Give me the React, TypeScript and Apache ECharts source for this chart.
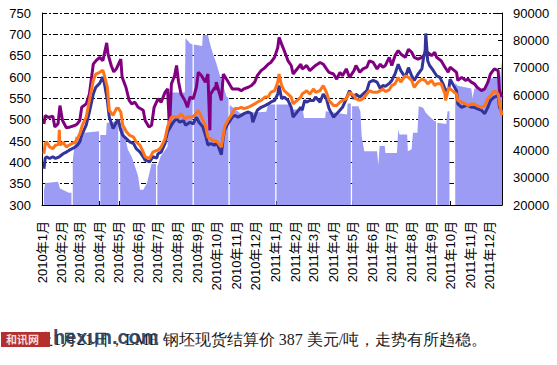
import React, { useEffect, useRef } from 'react';
import * as echarts from 'echarts';

const monthTicks = [
  '2010-01-01', '2010-02-01', '2010-03-01', '2010-04-01', '2010-05-01', '2010-06-01',
  '2010-07-01', '2010-08-01', '2010-09-01', '2010-10-01', '2010-11-01', '2010-12-01',
  '2011-01-01', '2011-02-01', '2011-03-01', '2011-04-01', '2011-05-01', '2011-06-01',
  '2011-07-01', '2011-08-01', '2011-09-01', '2011-10-01', '2011-11-01', '2011-12-01',
];

const leftTicks = { min: 300, max: 750, step: 50 };
const rightTicks = { min: 20000, max: 90000, step: 10000 };

const purpleLine: [string, number][] = [
  ['2010-01-04', 490], ['2010-01-06', 510], ['2010-01-11', 505], ['2010-01-18', 508], ['2010-01-21', 483],
  ['2010-01-26', 490], ['2010-01-29', 533], ['2010-02-02', 498], ['2010-02-08', 481], ['2010-02-12', 482],
  ['2010-02-22', 487], ['2010-02-25', 490], ['2010-03-01', 498], ['2010-03-04', 529], ['2010-03-11', 537],
  ['2010-03-16', 560], ['2010-03-22', 630], ['2010-03-26', 638], ['2010-04-01', 646], ['2010-04-06', 638],
  ['2010-04-12', 680], ['2010-04-14', 654], ['2010-04-19', 627], ['2010-04-23', 612], ['2010-04-27', 619],
  ['2010-05-04', 642], ['2010-05-06', 600], ['2010-05-12', 576], ['2010-05-17', 545], ['2010-05-21', 537],
  ['2010-05-26', 541], ['2010-05-31', 529], ['2010-06-08', 522], ['2010-06-11', 498], ['2010-06-17', 483],
  ['2010-06-21', 487], ['2010-06-25', 529], ['2010-07-01', 549], ['2010-07-06', 541], ['2010-07-12', 564],
  ['2010-07-16', 572], ['2010-07-19', 479], ['2010-07-22', 584], ['2010-07-27', 603], ['2010-07-30', 627],
  ['2010-08-02', 590], ['2010-08-06', 560], ['2010-08-12', 545], ['2010-08-16', 529], ['2010-08-20', 553],
  ['2010-08-25', 549], ['2010-08-30', 576], ['2010-09-02', 611], ['2010-09-07', 603], ['2010-09-13', 588],
  ['2010-09-17', 607], ['2010-09-20', 475], ['2010-09-21', 560], ['2010-09-28', 576], ['2010-09-29', 570],
  ['2010-09-30', 588], ['2010-10-08', 545], ['2010-10-11', 607], ['2010-10-18', 590], ['2010-10-25', 572],
  ['2010-10-29', 572], ['2010-11-03', 572], ['2010-11-08', 568], ['2010-11-12', 572], ['2010-11-19', 576],
  ['2010-11-24', 580], ['2010-11-29', 588], ['2010-12-03', 603], ['2010-12-09', 615], ['2010-12-15', 622],
  ['2010-12-20', 630], ['2010-12-24', 634], ['2010-12-30', 646],
  ['2011-01-04', 669], ['2011-01-06', 693], ['2011-01-10', 677], ['2011-01-14', 662], ['2011-01-20', 638],
  ['2011-01-25', 627], ['2011-01-28', 607], ['2011-02-09', 630], ['2011-02-11', 619], ['2011-02-15', 623],
  ['2011-02-18', 627], ['2011-02-23', 615], ['2011-03-01', 623], ['2011-03-04', 627], ['2011-03-11', 634],
  ['2011-03-16', 630], ['2011-03-21', 619], ['2011-03-25', 611], ['2011-04-01', 607], ['2011-04-06', 595],
  ['2011-04-11', 611], ['2011-04-15', 603], ['2011-04-21', 619], ['2011-04-26', 599], ['2011-05-03', 615],
  ['2011-05-06', 627], ['2011-05-12', 611], ['2011-05-17', 619], ['2011-05-23', 623], ['2011-05-27', 638],
  ['2011-06-02', 634], ['2011-06-08', 619], ['2011-06-13', 630], ['2011-06-17', 623], ['2011-06-21', 627],
  ['2011-06-27', 646], ['2011-07-01', 627], ['2011-07-06', 650], ['2011-07-11', 662], ['2011-07-15', 654],
  ['2011-07-22', 646], ['2011-07-27', 665], ['2011-08-01', 658], ['2011-08-05', 646], ['2011-08-11', 642],
  ['2011-08-17', 646], ['2011-08-22', 654], ['2011-08-26', 658], ['2011-09-01', 650], ['2011-09-06', 658],
  ['2011-09-09', 646], ['2011-09-16', 638], ['2011-09-22', 623], ['2011-09-27', 611], ['2011-09-30', 623],
  ['2011-10-10', 611], ['2011-10-12', 592], ['2011-10-18', 599], ['2011-10-24', 592], ['2011-10-28', 595],
  ['2011-11-02', 588], ['2011-11-07', 584], ['2011-11-11', 576], ['2011-11-18', 568], ['2011-11-23', 572],
  ['2011-11-28', 588], ['2011-12-02', 607], ['2011-12-08', 619], ['2011-12-14', 615], ['2011-12-16', 568],
  ['2011-12-20', 553],
];

const navyLine: [string, number][] = [
  ['2010-01-04', 385], ['2010-01-06', 409], ['2010-01-08', 413], ['2010-01-13', 409], ['2010-01-18', 413],
  ['2010-01-22', 409], ['2010-01-28', 413], ['2010-02-03', 420], ['2010-02-08', 424], ['2010-02-12', 428],
  ['2010-02-22', 436], ['2010-02-25', 440], ['2010-03-01', 448], ['2010-03-05', 467], ['2010-03-11', 487],
  ['2010-03-16', 518], ['2010-03-22', 560], ['2010-03-26', 576], ['2010-04-01', 585], ['2010-04-06', 600],
  ['2010-04-09', 580], ['2010-04-13', 545], ['2010-04-16', 506], ['2010-04-22', 479], ['2010-04-27', 494],
  ['2010-04-30', 500], ['2010-05-04', 475], ['2010-05-07', 463], ['2010-05-13', 455], ['2010-05-18', 448],
  ['2010-05-24', 444], ['2010-05-28', 432], ['2010-06-03', 424], ['2010-06-08', 413], ['2010-06-11', 405],
  ['2010-06-18', 401], ['2010-06-23', 413], ['2010-06-29', 410], ['2010-07-01', 420], ['2010-07-06', 424],
  ['2010-07-12', 444], ['2010-07-16', 471], ['2010-07-22', 487], ['2010-07-27', 498], ['2010-07-30', 502],
  ['2010-08-04', 494], ['2010-08-10', 498], ['2010-08-13', 487], ['2010-08-20', 494], ['2010-08-25', 490],
  ['2010-08-30', 506], ['2010-09-03', 494], ['2010-09-09', 483], ['2010-09-14', 459], ['2010-09-17', 440],
  ['2010-09-21', 444], ['2010-09-28', 440], ['2010-09-30', 450], ['2010-10-08', 418], ['2010-10-11', 459],
  ['2010-10-13', 475], ['2010-10-18', 490], ['2010-10-25', 506], ['2010-10-29', 510], ['2010-11-03', 506],
  ['2010-11-08', 510], ['2010-11-12', 514], ['2010-11-19', 518], ['2010-11-24', 514], ['2010-11-26', 494],
  ['2010-11-29', 506], ['2010-12-03', 522], ['2010-12-09', 529], ['2010-12-15', 533], ['2010-12-20', 537],
  ['2010-12-24', 541], ['2010-12-30', 545],
  ['2011-01-04', 560], ['2011-01-06', 580], ['2011-01-10', 549], ['2011-01-14', 553], ['2011-01-20', 545],
  ['2011-01-25', 529], ['2011-01-28', 506], ['2011-02-09', 529], ['2011-02-11', 522], ['2011-02-15', 545],
  ['2011-02-18', 541], ['2011-02-23', 545], ['2011-03-01', 545], ['2011-03-04', 553], ['2011-03-11', 541],
  ['2011-03-16', 560], ['2011-03-21', 549], ['2011-03-25', 526], ['2011-04-01', 506], ['2011-04-06', 514],
  ['2011-04-11', 522], ['2011-04-15', 529], ['2011-04-21', 549], ['2011-04-26', 568], ['2011-05-03', 549],
  ['2011-05-06', 560], ['2011-05-12', 553], ['2011-05-17', 560], ['2011-05-23', 568], ['2011-05-27', 588],
  ['2011-06-02', 592], ['2011-06-08', 588], ['2011-06-13', 573], ['2011-06-17', 580], ['2011-06-21', 578],
  ['2011-06-27', 585], ['2011-07-01', 592], ['2011-07-06', 607], ['2011-07-11', 630], ['2011-07-15', 615],
  ['2011-07-22', 599], ['2011-07-27', 622], ['2011-08-01', 603], ['2011-08-05', 592], ['2011-08-11', 607],
  ['2011-08-17', 619], ['2011-08-19', 640], ['2011-08-22', 662], ['2011-08-23', 702], ['2011-08-26', 638],
  ['2011-08-29', 627], ['2011-09-02', 619], ['2011-09-09', 603], ['2011-09-14', 599], ['2011-09-19', 584],
  ['2011-09-23', 568], ['2011-09-28', 572], ['2011-09-30', 595], ['2011-10-10', 568], ['2011-10-12', 537],
  ['2011-10-18', 529], ['2011-10-24', 533], ['2011-10-28', 533], ['2011-11-02', 529], ['2011-11-07', 529],
  ['2011-11-11', 526], ['2011-11-18', 522], ['2011-11-23', 514], ['2011-11-28', 529], ['2011-12-02', 545],
  ['2011-12-08', 553], ['2011-12-14', 556], ['2011-12-16', 529], ['2011-12-20', 518],
];

const orangeLine: [string, number][] = [
  ['2010-01-04', 420], ['2010-01-06', 444], ['2010-01-08', 448], ['2010-01-13', 436], ['2010-01-18', 432],
  ['2010-01-22', 440], ['2010-01-27', 442], ['2010-01-28', 476], ['2010-01-29', 440], ['2010-02-03', 447],
  ['2010-02-08', 436], ['2010-02-12', 440], ['2010-02-22', 448], ['2010-02-25', 455], ['2010-03-01', 467],
  ['2010-03-05', 487], ['2010-03-11', 506], ['2010-03-16', 545], ['2010-03-22', 592], ['2010-03-26', 607],
  ['2010-04-01', 611], ['2010-04-06', 616], ['2010-04-09', 600], ['2010-04-13', 576], ['2010-04-16', 522],
  ['2010-04-22', 510], ['2010-04-27', 526], ['2010-04-30', 527], ['2010-05-04', 518], ['2010-05-07', 487],
  ['2010-05-13', 471], ['2010-05-18', 463], ['2010-05-24', 459], ['2010-05-28', 448], ['2010-06-03', 440],
  ['2010-06-08', 424], ['2010-06-11', 413], ['2010-06-18', 409], ['2010-06-23', 424], ['2010-06-29', 428],
  ['2010-07-01', 428], ['2010-07-06', 436], ['2010-07-12', 455], ['2010-07-16', 483], ['2010-07-22', 506],
  ['2010-07-27', 506], ['2010-08-02', 506], ['2010-08-06', 514], ['2010-08-12', 502], ['2010-08-17', 506],
  ['2010-08-23', 506], ['2010-08-27', 510], ['2010-09-02', 522], ['2010-09-07', 506], ['2010-09-13', 487],
  ['2010-09-17', 459], ['2010-09-21', 455], ['2010-09-28', 448], ['2010-09-30', 451], ['2010-10-08', 436],
  ['2010-10-11', 463], ['2010-10-13', 483], ['2010-10-18', 498], ['2010-10-25', 514], ['2010-10-29', 526],
  ['2010-11-03', 526], ['2010-11-08', 529], ['2010-11-12', 526], ['2010-11-19', 529], ['2010-11-24', 533],
  ['2010-11-29', 537], ['2010-12-03', 541], ['2010-12-09', 545], ['2010-12-15', 553], ['2010-12-20', 553],
  ['2010-12-24', 564], ['2010-12-30', 568],
  ['2011-01-04', 588], ['2011-01-06', 607], ['2011-01-10', 580], ['2011-01-14', 568], ['2011-01-20', 560],
  ['2011-01-25', 553], ['2011-01-28', 537], ['2011-02-09', 553], ['2011-02-11', 560], ['2011-02-15', 564],
  ['2011-02-18', 568], ['2011-02-23', 560], ['2011-03-01', 572], ['2011-03-04', 564], ['2011-03-11', 568],
  ['2011-03-16', 580], ['2011-03-21', 564], ['2011-03-25', 545], ['2011-04-01', 533], ['2011-04-06', 533],
  ['2011-04-11', 541], ['2011-04-15', 545], ['2011-04-21', 549], ['2011-04-26', 564], ['2011-05-03', 556],
  ['2011-05-06', 549], ['2011-05-12', 545], ['2011-05-17', 549], ['2011-05-23', 560], ['2011-05-27', 568],
  ['2011-06-02', 564], ['2011-06-08', 564], ['2011-06-13', 568], ['2011-06-17', 572], ['2011-06-21', 566],
  ['2011-06-27', 570], ['2011-07-01', 580], ['2011-07-06', 584], ['2011-07-11', 599], ['2011-07-15', 588],
  ['2011-07-22', 603], ['2011-07-27', 599], ['2011-08-01', 592], ['2011-08-05', 576], ['2011-08-11', 588],
  ['2011-08-17', 595], ['2011-08-22', 592], ['2011-08-26', 584], ['2011-09-01', 592], ['2011-09-06', 580],
  ['2011-09-09', 584], ['2011-09-16', 584], ['2011-09-22', 560], ['2011-09-23', 545], ['2011-09-28', 576],
  ['2011-09-30', 572], ['2011-10-10', 560], ['2011-10-12', 545], ['2011-10-18', 541], ['2011-10-24', 537],
  ['2011-10-28', 533], ['2011-11-02', 537], ['2011-11-07', 537], ['2011-11-11', 533], ['2011-11-18', 529],
  ['2011-11-23', 533], ['2011-11-28', 549], ['2011-12-02', 556], ['2011-12-08', 568], ['2011-12-14', 560],
  ['2011-12-16', 537], ['2011-12-20', 510],
];

const areaValues: [string, number | null][] = [
  ['2010-01-04', 25000], ['2010-01-06', 28000], ['2010-01-26', 28500], ['2010-01-29', 26000], ['2010-02-12', 24500],
  ['2010-02-16', 24500], ['2010-02-17', null], ['2010-02-18', 36000], ['2010-02-22', 45000], ['2010-03-05', 44000],
  ['2010-03-08', 46300], ['2010-03-31', 46900], ['2010-04-01', null], ['2010-04-02', 45500], ['2010-04-11', 45500],
  ['2010-04-12', 49900], ['2010-04-30', 50500], ['2010-05-01', null], ['2010-05-03', 48100], ['2010-05-08', 48100],
  ['2010-05-10', 45500], ['2010-05-15', 40200], ['2010-05-21', 37600], ['2010-05-26', 34100], ['2010-05-31', 30600],
  ['2010-06-03', 25600], ['2010-06-08', 25600], ['2010-06-14', 28000], ['2010-06-17', 31000], ['2010-06-21', 35000],
  ['2010-06-28', 35000], ['2010-06-29', null], ['2010-06-30', 34000], ['2010-07-05', 37700], ['2010-07-16', 41300],
  ['2010-07-17', 61000], ['2010-08-12', 61000], ['2010-08-13', 80900], ['2010-08-20', 79000], ['2010-08-24', 78500],
  ['2010-08-25', null], ['2010-08-26', 78500], ['2010-09-08', 78000], ['2010-09-09', 82000], ['2010-09-17', 82000],
  ['2010-09-20', 79000], ['2010-09-25', 75000], ['2010-09-30', 71800], ['2010-10-06', 66900], ['2010-10-11', 63300],
  ['2010-10-16', 59600], ['2010-10-19', 59000], ['2010-10-20', null], ['2010-10-21', 56500], ['2010-11-06', 53500],
  ['2010-12-17', 54000], ['2010-12-20', 56600], ['2010-12-31', 56600], ['2011-01-01', null], ['2011-01-02', 56600],
  ['2011-01-24', 56600], ['2011-01-25', 54800], ['2011-02-12', 54800], ['2011-02-14', 51700], ['2011-03-19', 51700],
  ['2011-03-20', 54200], ['2011-04-22', 53000], ['2011-04-23', 57000], ['2011-04-28', 57000], ['2011-04-29', null],
  ['2011-04-30', 56000], ['2011-05-10', 56000], ['2011-05-13', 54000], ['2011-05-15', 45000], ['2011-05-19', 39600],
  ['2011-06-08', 39600], ['2011-06-10', 34600], ['2011-06-12', 41500], ['2011-06-20', 41500], ['2011-06-21', 39000],
  ['2011-07-09', 39000], ['2011-07-11', 47500], ['2011-07-13', 45700], ['2011-07-25', 45700], ['2011-07-26', 39600],
  ['2011-08-01', 40300], ['2011-08-03', 46300], ['2011-08-10', 46300], ['2011-08-12', 56000], ['2011-08-19', 55500],
  ['2011-08-23', 53600], ['2011-08-30', 52000], ['2011-09-06', 50500], ['2011-09-08', 50500], ['2011-09-09', null],
  ['2011-09-10', 50000], ['2011-09-24', 49500], ['2011-09-26', 54200], ['2011-09-29', 54200], ['2011-09-30', null],
  ['2011-10-08', 64500], ['2011-10-12', 63500], ['2011-11-02', 62500], ['2011-11-04', 59000], ['2011-11-07', 62500],
  ['2011-11-26', 62500], ['2011-11-27', 66000], ['2011-12-17', 66500], ['2011-12-20', 72500],
];

const caption = '截止1月21日，LME 钢坯现货结算价 387 美元/吨，走势有所趋稳。';
const watermark = 'hexun.com';
const logoText = '和讯网';

const ts = (s: string) => {
  const [y, m, d] = s.split('-').map(Number);
  return new Date(y, m - 1, d).getTime();
};
const toPoints = (arr: [string, number | null][]) => arr.map(([d, v]) => [ts(d), v]);

const FONT = '"Liberation Sans", Arial, "Noto Sans CJK SC", sans-serif';

export default function App() {
  const ref = useRef<HTMLDivElement>(null);
  useEffect(() => {
    document.body.style.margin = '0';
    const chart = echarts.init(ref.current!, null, { renderer: 'svg' });
    const tickValues = monthTicks.map(ts);
    const lineSeries = (name: string, data: [string, number][], color: string) => ({
      name,
      type: 'line',
      yAxisIndex: 0,
      data: toPoints(data),
      showSymbol: false,
      symbol: 'none',
      lineStyle: { color, width: 3 },
      itemStyle: { color },
      z: 3,
    });
    chart.setOption({
      animation: false,
      backgroundColor: '#ffffff',
      grid: { left: 42, right: 55, top: 13, bottom: 160 },
      xAxis: {
        type: 'value',
        min: ts('2010-01-01'),
        max: ts('2011-12-20'),
        scale: true,
        axisLine: { show: true, lineStyle: { color: '#000', width: 1 } },
        axisTick: { show: true, inside: true, length: 4, lineStyle: { color: '#000' }, customValues: tickValues },
        axisLabel: {
          customValues: tickValues,
          rotate: 90,
          margin: 16,
          fontSize: 13,
          color: '#000',
          fontFamily: FONT,
          formatter: (v: number) => {
            const d = new Date(v);
            return `${d.getFullYear()}年${d.getMonth() + 1}月`;
          },
        },
        splitLine: { show: false },
      },
      yAxis: [
        {
          type: 'value',
          position: 'left',
          min: leftTicks.min,
          max: leftTicks.max,
          interval: leftTicks.step,
          axisLine: { show: true, lineStyle: { color: '#000' } },
          axisTick: { show: false },
          axisLabel: { fontSize: 13, color: '#000', margin: 11, fontFamily: FONT, formatter: (v: number) => String(v) },
          splitLine: { show: true, lineStyle: { color: '#000', width: 1, type: [5, 2, 2, 2] } },
        },
        {
          type: 'value',
          position: 'right',
          min: rightTicks.min,
          max: rightTicks.max,
          interval: rightTicks.step,
          axisLine: { show: true, lineStyle: { color: '#000' } },
          axisTick: { show: true, inside: true, length: 4, lineStyle: { color: '#000' } },
          axisLabel: { fontSize: 13, color: '#000', margin: 11, fontFamily: FONT, formatter: (v: number) => String(v) },
          splitLine: { show: false },
        },
      ],
      series: [
        {
          name: '量',
          type: 'line',
          yAxisIndex: 1,
          data: toPoints(areaValues),
          showSymbol: false,
          symbol: 'none',
          connectNulls: false,
          lineStyle: { width: 0, opacity: 0 },
          areaStyle: { color: '#9c9cf5', opacity: 1 },
          z: 1,
        },
        lineSeries('价格A', purpleLine, '#800080'),
        lineSeries('价格B', navyLine, '#333399'),
        lineSeries('价格C', orangeLine, '#ff7418'),
      ],
      graphic: [
        {
          type: 'text',
          left: 21,
          top: 331,
          z: 10,
          style: { text: caption, fill: '#1a1a1a', font: '16px "Liberation Serif", serif' },
        },
        {
          type: 'rect',
          left: 1,
          top: 332,
          z: 11,
          shape: { width: 49, height: 15 },
          style: { fill: '#b3302c' },
        },
        {
          type: 'text',
          left: 6,
          top: 333,
          z: 12,
          style: { text: logoText, fill: '#f4dede', font: 'bold 11px "Noto Sans CJK SC", sans-serif' },
        },
        {
          type: 'text',
          left: 53,
          top: 327,
          z: 12,
          style: { text: watermark, fill: '#2a3a58', opacity: 0.92, font: 'bold 20px "Liberation Sans", Arial, sans-serif' },
        },
      ],
    });
    return () => chart.dispose();
  }, []);
  return <div ref={ref} style={{ position: 'fixed', left: 0, top: 0, width: 557, height: 365 }} />;
}
